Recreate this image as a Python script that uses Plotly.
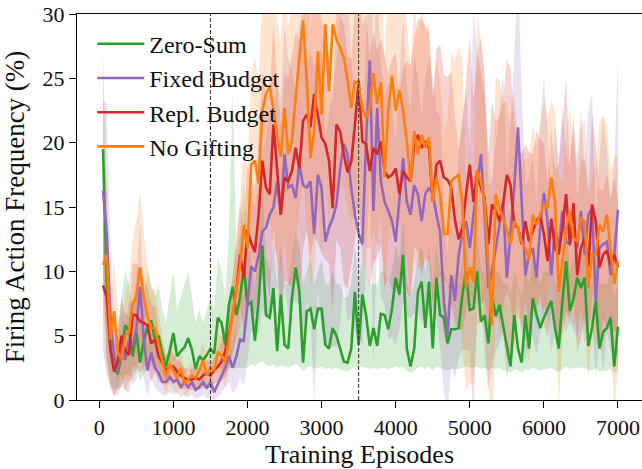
import plotly.graph_objects as go

# Training episodes (every 50 episodes)
episodes = list(range(50, 7001, 50))

# Mean firing frequency (%) per configuration
zero_sum = [
    19.5, 9.0, 4.0, 2.3, 2.1, 3.5, 5.8, 5.4, 3.4, 5.3,
    2.9, 4.6, 5.6, 6.2, 4.7, 5.0, 3.6, 2.6, 3.8, 5.2,
    3.4, 3.8, 4.1, 4.8, 3.9, 2.4, 3.4, 3.1, 3.5, 4.0,
    3.6, 6.4, 6.0, 4.3, 7.4, 8.8, 6.6, 8.0, 10.3, 7.4,
    7.6, 4.6, 7.7, 12.0,
    6.6, 6.4, 8.7, 3.8, 8.2, 4.3, 4.0, 7.9, 10.3, 8.4,
    2.9, 6.9, 7.1, 5.5, 7.1, 7.1, 4.3, 4.0, 5.6, 5.0,
    4.0, 3.0, 2.9, 4.0, 8.4, 4.3,
    8.2, 6.6, 4.2, 5.6, 4.2, 6.7, 6.6, 5.5, 7.1, 9.5,
    8.2, 11.3, 4.0, 2.6, 4.0, 8.4, 9.2, 5.6, 9.2, 4.0,
    9.5, 6.6, 6.4,
    4.4, 5.5, 5.5, 5.6, 8.2, 10.0, 7.0, 7.1, 10.0, 6.1,
    6.6, 4.4, 8.2, 6.5, 7.4, 5.8, 4.3, 2.6, 6.6, 4.0,
    2.9, 6.6, 4.0,
    7.9, 6.6, 5.6, 6.4, 7.0, 7.7, 5.6, 4.0, 7.7, 10.8,
    6.9, 7.9, 9.5, 8.7, 9.5, 4.2, 5.6, 7.7, 4.0, 5.3,
    5.6, 6.4, 2.6, 5.7,
]
fixed_budget = [
    16.3, 13.0, 6.5, 3.4, 2.3, 4.2, 3.1, 4.7, 4.2, 5.5,
    8.8, 4.7, 2.3, 3.7, 2.5, 2.1, 1.4, 1.4, 1.8, 1.4,
    1.6, 1.0, 1.4, 1.0, 1.4, 0.8, 1.0, 1.4, 0.9, 1.4,
    0.6, 1.2, 1.8, 2.5, 3.4, 2.5, 3.4, 4.7, 4.6, 7.5,
    10.4, 10.0, 11.2, 13.1,
    13.4, 14.4, 15.0, 17.0, 14.4, 19.1, 16.5, 16.7, 15.7, 18.3,
    16.7, 16.5, 17.0, 12.9, 17.5, 16.5, 12.3, 13.4, 14.1, 15.2,
    18.0, 19.9, 19.1, 16.5, 14.4, 12.9,
    12.1, 20.1, 26.4, 14.7, 22.7, 17.0, 15.4, 14.7, 13.9, 12.3,
    15.4, 18.8, 15.4, 14.4, 16.7, 16.0, 13.9, 16.0, 16.5, 16.0,
    14.4, 13.0, 7.7, 5.1, 9.7, 7.7, 11.3, 12.9, 13.9, 11.8,
    14.4, 17.0, 19.1, 14.4, 8.7, 10.0, 11.8, 13.4, 15.4, 9.5,
    13.1, 16.5, 21.2,
    15.0, 9.7, 11.3, 11.8, 9.5, 13.4, 16.1, 13.9, 9.7, 13.4,
    11.8, 14.7, 12.3, 12.1, 13.4, 11.8, 14.7, 11.3, 14.4, 14.9,
    7.7, 11.8, 12.1, 12.3, 9.7, 11.3, 14.8,
]
repl_budget = [
    8.9, 8.0, 4.0, 2.2, 3.1, 5.0, 3.8, 3.5, 6.6, 6.6,
    6.1, 6.0, 5.8, 4.4, 4.7, 3.4, 2.9, 2.3, 2.6, 2.6,
    2.2, 1.9, 1.7, 1.6, 1.6, 1.7, 1.6, 1.9, 2.1, 1.9,
    2.3, 2.6, 3.0, 3.8, 5.2, 6.6, 8.6, 11.3, 9.5, 13.2,
    12.2, 11.5, 14.4, 18.6,
    16.5, 16.0, 21.4, 17.5, 14.4, 17.3, 17.0, 17.8, 19.6, 18.0,
    21.7, 22.2, 21.2, 23.8, 22.2, 20.4, 19.9, 18.6, 14.9, 21.4,
    20.9, 19.1, 17.7, 18.5, 21.4, 24.8,
    20.1, 19.9, 17.8, 19.6, 19.1, 20.1, 17.8, 17.3, 17.5, 18.0,
    16.0, 17.8, 17.3, 17.0, 19.9, 20.6, 19.6, 20.1, 19.6, 15.4,
    18.3, 18.6, 17.3,
    17.1, 16.5, 14.0, 12.5, 13.4, 16.0, 18.3, 15.4, 17.8, 16.5,
    15.7, 12.1, 15.2, 14.7, 13.9, 15.2, 17.5, 16.7, 13.6, 13.4,
    12.1, 13.9, 12.3, 13.1, 13.9, 14.3, 12.9, 10.8, 14.1, 11.8,
    11.3, 13.4, 16.0, 12.1, 15.3, 9.7, 11.8, 12.6, 10.3, 15.2,
    13.9, 10.3, 11.3, 11.6, 10.5, 11.3, 10.3,
]
no_gifting = [
    10.5, 11.3, 4.7, 6.9, 3.7, 3.1, 5.0, 5.2, 7.5, 8.0,
    10.3, 8.0, 6.5, 5.6, 5.6, 4.4, 3.2, 1.8, 2.8, 2.3,
    1.7, 2.5, 1.2, 1.6, 1.9, 1.7, 2.3, 3.1, 1.9, 2.5,
    2.3, 3.7, 3.5, 2.9, 4.8, 6.6, 8.7, 10.5, 13.6, 11.8,
    18.3, 18.6, 16.8, 22.5,
    23.8, 24.4, 22.6, 20.5, 18.9, 22.7, 19.1, 20.1, 23.5, 26.6,
    29.5, 24.8, 18.8, 20.9, 27.1, 22.2, 29.2, 24.0, 29.2, 28.0,
    27.4, 26.6, 24.9, 22.7, 24.8, 24.5,
    22.7, 21.9, 22.7, 25.4, 23.0, 24.7, 17.3, 22.5, 25.2, 22.5,
    24.1, 22.5, 20.1, 17.0, 20.9, 19.1, 20.6, 19.6, 20.4, 15.4,
    17.3, 16.0, 12.9,
    12.9, 17.0, 17.3, 17.5, 15.4, 8.7, 10.3, 9.2, 17.8, 17.0,
    15.4, 10.5, 5.8, 16.0, 14.9, 14.1, 13.2, 12.1, 13.9, 13.4,
    12.3, 11.8, 10.9,
    14.4, 13.6, 14.4, 15.2, 14.9, 17.3, 15.4, 8.4, 10.8, 13.4,
    14.7, 12.6, 12.3, 14.1, 13.9, 8.7, 11.3, 11.3, 13.6, 13.1,
    14.4, 11.8, 9.0, 10.8,
]

# Spread across seeds (lower / upper envelope for Zero-Sum, std for the rest)
zero_sum_lo = [
    12, 3, 1, 0.8, 0.8, 1, 2, 2, 1.5, 2.5,
    1.5, 2, 2.5, 3, 2.5, 2.5, 2, 1.5, 2, 2.5,
    2, 2, 2, 2.5, 2, 1.5, 2, 2, 2, 2.5,
    2, 2.5, 2.5, 2, 2.5, 2.5, 2.5, 2.5, 2.5, 2.5,
    2.8, 2.6, 2.9, 3.0, 2.7, 2.6, 2.8, 2.5, 2.7, 2.6,
    2.5, 2.7, 2.8, 2.6, 2.3, 2.5, 2.6, 2.4, 2.5, 2.6,
    2.4, 2.5, 2.4, 2.5, 2.4, 2.3, 2.2, 2.4, 2.6, 2.5,
    2.6, 2.5, 2.4, 2.5, 2.4, 2.5, 2.5, 2.4, 2.5, 2.6,
    2.5, 2.6, 2.3, 2.1, 2.3, 2.5, 2.6, 2.4, 2.6, 2.3,
    2.6, 2.5, 2.4, 2.3, 2.4, 2.4, 2.4, 2.5, 2.6, 2.5,
    2.5, 2.6, 2.4, 2.5, 2.3, 2.5, 2.4, 2.5, 2.3, 2.3,
    2.1, 2.4, 2.3, 2.1, 2.4, 2.3, 2.5, 2.4, 2.3, 2.4,
    2.4, 2.5, 2.3, 2.2, 2.4, 2.6, 2.4, 2.5, 2.5, 2.5,
    2.5, 2.3, 2.3, 2.5, 2.2, 2.3, 2.3, 2.4, 2.1, 2.3,
]
zero_sum_hi = [
    27, 16, 8, 5, 6, 8, 10, 9, 7, 9,
    6, 8, 10, 9, 8, 9, 7, 6, 8, 10,
    7, 8, 9, 10, 8, 6, 7, 6, 7, 8,
    7, 11, 10, 8, 13, 24, 11, 13, 17, 12,
    11, 9, 12, 17, 11, 10, 12, 9, 12, 9,
    9, 11, 13, 12, 9, 10, 11, 9, 10, 11,
    9, 9, 10, 9, 9, 8, 8, 9, 12, 9,
    11, 10, 9, 9, 9, 10, 10, 9, 10, 12,
    11, 14, 9, 8, 9, 11, 12, 10, 12, 9,
    12, 10, 10, 9, 9, 10, 9, 11, 13, 10,
    11, 13, 10, 10, 9, 11, 10, 10, 9, 9,
    8, 10, 9, 8, 10, 9, 11, 10, 9, 10,
    10, 11, 9, 9, 11, 14, 10, 11, 12, 11,
    12, 9, 9, 11, 9, 9, 9, 10, 8, 9,
]
fixed_budget_sd = [
    7, 10, 5, 3, 2, 3, 2.5, 3, 3, 4,
    5, 3, 2, 2, 1.5, 1.5, 1, 1, 1.2, 1,
    1, 0.8, 1, 0.8, 1, 0.7, 0.8, 1, 0.8, 1,
    0.6, 1, 1.2, 1.5, 2, 2, 2.5, 3, 3.5, 4.5,
    5, 5, 6, 6, 7, 8, 7, 8, 9, 10,
    10, 9, 8, 11, 12, 9, 10, 13, 9, 11,
    8, 9, 10, 11, 12, 11, 13, 10, 9, 8,
    8, 10, 9, 12, 10, 9, 8, 10, 9, 8,
    10, 11, 9, 8, 10, 9, 8, 9, 10, 9,
    8, 9, 7, 6, 7, 6, 8, 9, 10, 8,
    16, 10, 9, 11, 8, 7, 8, 9, 10, 8,
    9, 10, 12, 9, 7, 6, 7, 6, 8, 9,
    7, 6, 8, 7, 8, 7, 6, 8, 7, 8,
    7, 8, 9, 6, 7, 10, 7, 6, 7, 12,
]
repl_budget_sd = [
    5, 6, 3, 2, 2, 3, 3, 3, 4, 4,
    4, 3.5, 3, 3, 2.5, 2, 1.5, 1.2, 1.2, 1,
    1, 1, 0.8, 0.8, 0.8, 0.8, 0.8, 1, 1, 1,
    1, 1.2, 1.5, 2, 2.5, 3, 3.5, 4, 4, 5,
    5, 5, 6, 7, 7, 8, 8, 7, 7, 8,
    8, 9, 9, 10, 10, 9, 10, 11, 10, 9,
    9, 8, 8, 9, 9, 10, 9, 8, 9, 9,
    9, 10, 9, 9, 8, 8, 9, 8, 9, 9,
    8, 8, 9, 9, 8, 9, 10, 9, 9, 8,
    9, 9, 8, 8, 9, 8, 7, 8, 9, 10,
    8, 9, 9, 8, 7, 8, 7, 8, 8, 9,
    9, 8, 6, 7, 6, 7, 6, 7, 6, 7,
    6, 7, 6, 7, 8, 9, 6, 7, 6, 7,
    6, 6, 7, 6, 6, 5, 6, 5, 6, 5,
]
no_gifting_sd = [
    4, 6, 3, 4, 3, 2, 3, 4, 5, 6,
    6, 5, 4, 3, 3, 2.5, 2, 1.5, 1.5, 1.5,
    1.2, 1.2, 1, 1, 1, 1, 1.2, 1.5, 1.2, 1.2,
    1.2, 1.5, 1.5, 2, 2.5, 3, 4, 5, 6, 6,
    7, 8, 8, 9, 10, 10, 11, 9, 9, 10,
    10, 11, 11, 12, 12, 11, 10, 11, 12, 11,
    11, 12, 11, 12, 11, 10, 10, 9, 10, 10,
    10, 10, 11, 12, 11, 10, 9, 10, 11, 10,
    10, 11, 9, 9, 10, 9, 10, 9, 9, 8,
    9, 9, 8, 9, 10, 9, 10, 11, 8, 9,
    8, 12, 11, 10, 9, 10, 9, 10, 9, 10,
    9, 10, 7, 6, 7, 8, 7, 6, 7, 8,
    7, 6, 7, 9, 6, 7, 8, 7, 6, 7,
    8, 7, 6, 7, 8, 9, 7, 6, 10, 8,
]

phase_marks = [1500, 3500]

FONT = "Liberation Serif"

series = [
    ("Zero-Sum", zero_sum, zero_sum_lo, zero_sum_hi, "#2ca02c", (44, 160, 44)),
    ("Fixed Budget", fixed_budget,
     [m - s for m, s in zip(fixed_budget, fixed_budget_sd)],
     [m + s for m, s in zip(fixed_budget, fixed_budget_sd)], "#9467bd", (148, 103, 189)),
    ("Repl. Budget", repl_budget,
     [m - s for m, s in zip(repl_budget, repl_budget_sd)],
     [m + s for m, s in zip(repl_budget, repl_budget_sd)], "#d62728", (214, 39, 40)),
    ("No Gifting", no_gifting,
     [m - s for m, s in zip(no_gifting, no_gifting_sd)],
     [m + s for m, s in zip(no_gifting, no_gifting_sd)], "#ff7f0e", (255, 127, 14)),
]

fig = go.Figure()

# shaded spread bands first, so every mean line sits above all bands
for name, mean, lo, hi, color, rgb in series:
    fig.add_trace(go.Scatter(
        x=episodes + episodes[::-1],
        y=hi + lo[::-1],
        fill="toself",
        fillcolor="rgba(%d,%d,%d,0.2)" % rgb,
        line=dict(width=0),
        mode="lines",
        hoverinfo="skip",
        showlegend=False,
    ))

for name, mean, lo, hi, color, rgb in series:
    fig.add_trace(go.Scatter(
        x=episodes, y=mean, mode="lines", name=name,
        line=dict(color=color, width=2.6),
    ))

for xm in phase_marks:
    fig.add_shape(type="line", x0=xm, x1=xm, xref="x", y0=0, y1=1, yref="paper",
                  line=dict(color="#333333", width=1, dash="4px,2px"), layer="above")

fig.update_layout(
    width=642, height=469,
    margin=dict(l=77, r=0, t=14, b=69),
    paper_bgcolor="white", plot_bgcolor="white",
    font=dict(family=FONT, size=22, color="#111111"),
    showlegend=True,
    legend=dict(
        x=0.027, y=0.98, xanchor="left", yanchor="top",
        bgcolor="rgba(0,0,0,0)", borderwidth=0,
        font=dict(family=FONT, size=24, color="#111111"),
        itemwidth=47,
    ),
    xaxis=dict(
        range=[-301, 7324], tickvals=[0, 1000, 2000, 3000, 4000, 5000, 6000, 7000],
        ticks="outside", ticklen=7, tickwidth=1.2, tickcolor="black",
        showline=True, linecolor="black", linewidth=1.4, mirror=True,
        showgrid=False, zeroline=False,
        tickfont=dict(family=FONT, size=22),
        title=dict(text="Training Episodes", font=dict(family=FONT, size=26), standoff=4),
    ),
    yaxis=dict(
        range=[0, 30], tickvals=[0, 5, 10, 15, 20, 25, 30],
        ticks="outside", ticklen=7, tickwidth=1.2, tickcolor="black",
        showline=True, linecolor="black", linewidth=1.4,
        showgrid=False, zeroline=False,
        tickfont=dict(family=FONT, size=22),
        title=dict(text="Firing Action Frequency (%)", font=dict(family=FONT, size=27), standoff=10),
    ),
)

fig.write_html("out.html")
